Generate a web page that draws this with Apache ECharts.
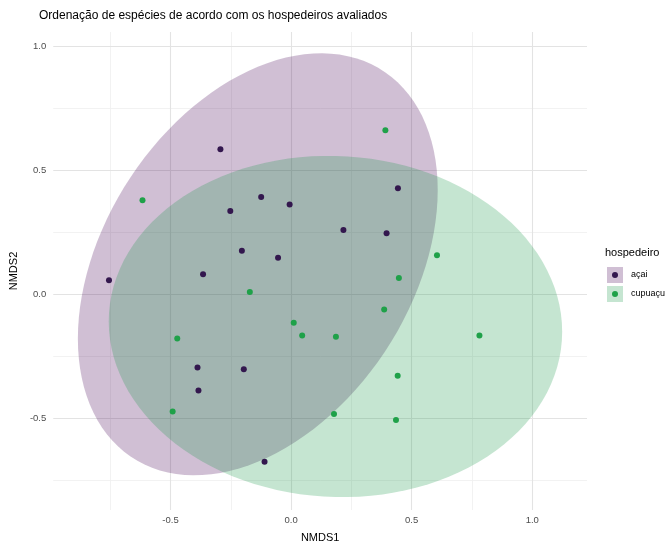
<!DOCTYPE html>
<html>
<head>
<meta charset="utf-8">
<script src="https://cdn.jsdelivr.net/npm/echarts@6/dist/echarts.min.js"></script>
<style>
  html, body { margin: 0; padding: 0; background: #fff; }
  #chart { width: 670px; height: 549px; }
</style>
</head>
<body>
<div id="chart"></div>
<script>
// pontos NMDS
var acaiX = [-0.293, -0.124, -0.006, -0.252, 0.217, -0.204, -0.054, -0.755, -0.365, -0.388, -0.196, -0.384, -0.110, 0.443, 0.396];
var acaiY = [0.586, 0.393, 0.363, 0.336, 0.260, 0.176, 0.147, 0.057, 0.081, -0.296, -0.303, -0.388, -0.676, 0.428, 0.246];
var cupuacuX = [-0.616, -0.171, 0.011, 0.046, 0.186, -0.472, -0.491, 0.178, 0.391, 0.605, 0.447, 0.386, 0.781, 0.442, 0.435];
var cupuacuY = [0.380, 0.009, -0.115, -0.166, -0.171, -0.179, -0.473, -0.483, 0.662, 0.158, 0.066, -0.061, -0.166, -0.329, -0.508];

var groups = ['açai', 'cupuaçu'];
var pointColors = ['#33174e', '#1fa149'];
var fillColors = ['rgba(68,1,84,0.25)', 'rgba(24,150,70,0.25)'];

// elipses: centro, espalhamento e correlacao (estimados da figura)
var ellipseCx = [-0.138, 0.184];
var ellipseCy = [0.121, -0.130];
var ellipseSx = [0.746, 0.940];
var ellipseSy = [0.852, 0.689];
var ellipseRho = [0.352, -0.03];

// ticks
var xMajor = [-0.5, 0, 0.5, 1];
var xMinor = [-0.75, -0.25, 0.25, 0.75];
var yMajor = [-0.5, 0, 0.5, 1];
var yMinor = [-0.75, -0.25, 0.25, 0.75];

var FONT = 'Liberation Sans, Arial, Helvetica, sans-serif';

function zip(xs, ys) {
    var out = [];
    for (var i = 0; i < xs.length; i++) out.push([xs[i], ys[i]]);
    return out;
}

function ellipseRing(i) {
    var pts = [];
    var r = ellipseRho[i];
    for (var k = 0; k <= 120; k++) {
        var t = 2 * Math.PI * k / 120;
        var c = Math.cos(t), s = Math.sin(t);
        pts.push([ellipseCx[i] + ellipseSx[i] * c,
                  ellipseCy[i] + ellipseSy[i] * (r * c + Math.sqrt(1 - r * r) * s)]);
    }
    return pts;
}

function ellipseSeries(i) {
    var ring = ellipseRing(i);
    return {
        type: 'custom',
        name: 'elipse ' + groups[i],
        z: 2,
        silent: true,
        itemStyle: { color: fillColors[i] },
        data: [[ellipseCx[i], ellipseCy[i]]],
        renderItem: function (params, api) {
            var pts = ring.map(function (p) { return api.coord(p); });
            return { type: 'polygon', shape: { points: pts }, style: { fill: fillColors[i] } };
        }
    };
}

var gridLines = [];
xMinor.forEach(function (v) { gridLines.push({ xAxis: v, lineStyle: { color: '#efefef', width: 0.8, type: 'solid' } }); });
yMinor.forEach(function (v) { gridLines.push({ yAxis: v, lineStyle: { color: '#efefef', width: 0.8, type: 'solid' } }); });
xMajor.forEach(function (v) { gridLines.push({ xAxis: v, lineStyle: { color: '#e3e3e3', width: 1.1, type: 'solid' } }); });
yMajor.forEach(function (v) { gridLines.push({ yAxis: v, lineStyle: { color: '#e3e3e3', width: 1.1, type: 'solid' } }); });

var myChart = echarts.init(document.getElementById('chart'), null, { renderer: 'canvas' });

var option = {
    animation: false,
    backgroundColor: '#ffffff',
    title: [{
        text: 'Ordenação de espécies de acordo com os hospedeiros avaliados',
        left: 39,
        top: 10,
        padding: 0,
        textStyle: { fontFamily: FONT, fontSize: 12, fontWeight: 'normal', color: '#000' }
    }, {
        text: 'hospedeiro',
        left: 605,
        top: 247,
        padding: 0,
        textStyle: { fontFamily: FONT, fontSize: 11, fontWeight: 'normal', color: '#000' }
    }],
    grid: { left: 50, right: 83, top: 32, bottom: 39 },
    legend: [{
        orient: 'vertical',
        left: 607,
        top: 267,
        padding: 0,
        itemWidth: 16,
        itemHeight: 16,
        itemGap: 3,
        icon: 'rect',
        selectedMode: false,
        data: ['elipse açai', 'elipse cupuaçu'],
        formatter: function (name) { return name.replace('elipse ', ''); },
        textStyle: { fontFamily: FONT, fontSize: 9, color: '#000', padding: [0, 0, 0, 3] }
    }, {
        orient: 'vertical',
        left: 607,
        top: 272,
        padding: 0,
        itemWidth: 16,
        itemHeight: 6,
        itemGap: 13,
        icon: 'circle',
        selectedMode: false,
        data: groups,
        formatter: function () { return ''; }
    }],
    xAxis: {
        type: 'value',
        min: -0.986,
        max: 1.227,
        name: 'NMDS1',
        nameLocation: 'middle',
        nameGap: 22,
        nameTextStyle: { fontFamily: FONT, fontSize: 11, color: '#000' },
        axisLine: { show: false },
        axisTick: { show: false },
        splitLine: { show: false },
        axisLabel: {
            customValues: xMajor,
            margin: 5,
            fontFamily: FONT,
            fontSize: 9.5,
            color: '#4d4d4d',
            formatter: function (v) { return v.toFixed(1); }
        }
    },
    yAxis: {
        type: 'value',
        min: -0.871,
        max: 1.059,
        name: 'NMDS2',
        nameLocation: 'middle',
        nameGap: 27,
        nameRotate: 90,
        nameTextStyle: { fontFamily: FONT, fontSize: 11, color: '#000' },
        axisLine: { show: false },
        axisTick: { show: false },
        splitLine: { show: false },
        axisLabel: {
            customValues: yMajor,
            margin: 7,
            fontFamily: FONT,
            fontSize: 9.5,
            color: '#4d4d4d',
            formatter: function (v) { return v.toFixed(1); }
        }
    },
    series: [
        {
            type: 'scatter',
            name: 'grade',
            data: [],
            silent: true,
            markLine: {
                silent: true,
                z: 1,
                symbol: ['none', 'none'],
                label: { show: false },
                emphasis: { disabled: true },
                data: gridLines
            }
        },
        ellipseSeries(0),
        ellipseSeries(1),
        {
            type: 'scatter',
            name: groups[0],
            z: 3,
            symbolSize: 6,
            itemStyle: { color: pointColors[0], opacity: 1 },
            data: zip(acaiX, acaiY)
        },
        {
            type: 'scatter',
            name: groups[1],
            z: 3,
            symbolSize: 6,
            itemStyle: { color: pointColors[1], opacity: 1 },
            data: zip(cupuacuX, cupuacuY)
        }
    ]
};

myChart.setOption(option);
</script>
</body>
</html>
